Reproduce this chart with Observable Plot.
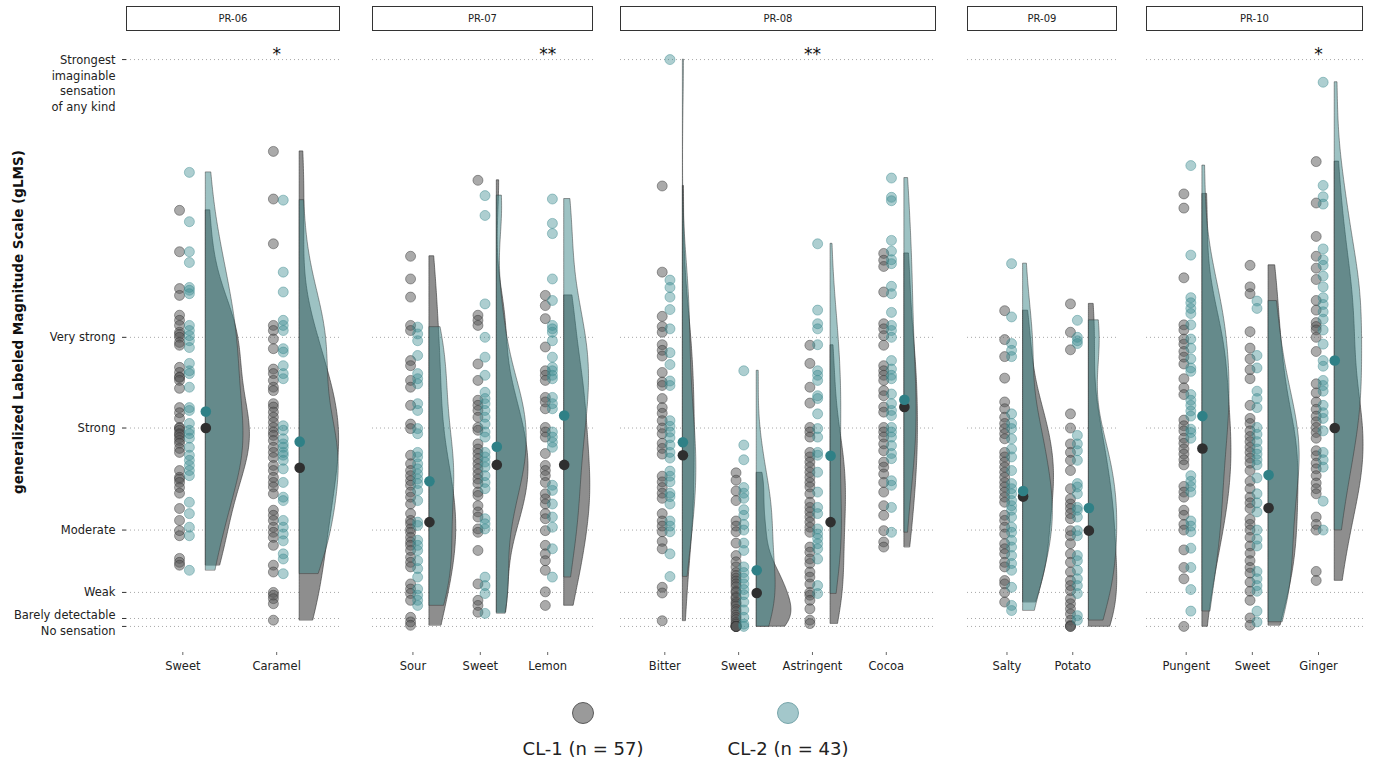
<!DOCTYPE html>
<html>
<head>
<meta charset="utf-8">
<script src="https://cdn.jsdelivr.net/npm/d3@7"></script>
<script src="https://cdn.jsdelivr.net/npm/@observablehq/plot@0.6"></script>
<style>
  html, body { margin: 0; padding: 0; background: #fff; }
  body { font-family: "DejaVu Sans", Verdana, sans-serif; }
  #root { position: relative; width: 1373px; height: 763px; overflow: hidden; background: #fff; }
  .facet { position: absolute; top: 0; z-index: 1; }
  .strip { position: absolute; top: 6px; height: 25px; box-sizing: border-box; border: 1.4px solid #333; background: #fff;
           font-size: 10px; color: #222; display: flex; align-items: center; justify-content: center; z-index: 2; }
  .legdot { position: absolute; width: 22px; height: 22px; border-radius: 50%; box-sizing: border-box; }
  .leglab { position: absolute; font-size: 18px; color: #222; transform: translateX(-50%); white-space: nowrap; }
</style>
</head>
<body>
<div id="root"></div>
<script>
// ---------------- DATA ----------------
const products = ["PR-06", "PR-07", "PR-08", "PR-09", "PR-10"];
const attributes = [
  ["Sweet", "Caramel"],
  ["Sour", "Sweet", "Lemon"],
  ["Bitter", "Sweet", "Astringent", "Cocoa"],
  ["Salty", "Potato"],
  ["Pungent", "Sweet", "Ginger"]
];
const clusters = ["CL-1", "CL-2"];
const clusterLabels = ["CL-1 (n = 57)", "CL-2 (n = 43)"];
const glmsValues = [0, 1.4, 6, 17, 35, 51, 100];
const glmsLabels = ["No sensation", "Barely detectable", "Weak", "Moderate", "Strong", "Very strong",
                    "Strongest\nimaginable\nsensation\nof any kind"];
const yTitle = "generalized Labeled Magnitude Scale (gLMS)";
const sigProducts = ["PR-06", "PR-07", "PR-08", "PR-10"];
const sigAttributes = ["Caramel", "Lemon", "Astringent", "Ginger"];
const sigLabels = ["*", "**", "**", "*"];

// ratings (gLMS) per product / attribute / cluster
const pr06_sweet_cl1 = [73.4,66.1,59.6,58.4,54.9,54.0,53.1,51.9,51.5,51.0,50.1,49.6,45.7,44.8,44.0,43.9,43.4,42.0,38.6,37.7,36.7,35.1,35.0,34.6,34.0,33.8,33.3,32.8,32.3,31.4,30.7,27.5,26.3,26.0,25.4,24.5,23.5,20.8,18.7,16.9,16.0,12.0,11.3,10.8];
const pr06_sweet_cl2 = [80.1,71.4,66.1,64.2,59.8,59.3,58.7,53.1,52.2,51.3,50.4,49.2,46.4,45.1,44.6,42.2,38.6,38.1,35.8,34.6,34.0,33.2,31.6,30.2,29.3,28.4,27.5,26.6,21.9,19.9,17.5,16.0,9.9];
const pr06_caramel_cl1 = [83.8,75.4,67.5,53.1,52.2,50.7,49.0,45.4,44.6,43.4,42.2,41.6,39.3,38.7,37.8,36.9,36.0,35.1,34.3,33.7,32.8,31.6,30.7,29.8,28.4,27.5,26.3,25.4,24.6,23.4,20.5,19.6,18.7,17.5,16.6,15.7,14.3,10.8,9.6,6.0,5.5,4.9,4.0,1.1];
const pr06_caramel_cl2 = [75.2,62.5,59.0,54.0,53.1,52.2,49.0,48.4,46.0,44.6,43.7,35.4,34.6,33.1,32.2,31.6,30.7,30.2,29.3,27.8,25.4,22.8,22.2,18.7,17.5,16.3,15.1,12.8,11.9,9.3];
const pr07_sour_cl1 = [65.3,61.3,58.1,53.1,52.2,46.9,46.0,43.4,42.2,39.0,35.7,34.9,30.2,28.7,27.5,26.6,25.7,24.9,23.7,22.8,21.6,19.9,18.7,18.1,17.2,16.6,15.7,14.9,14.3,13.4,12.2,11.3,10.5,7.5,6.6,5.8,4.6,1.6,0.8,0.2];
const pr07_sour_cl2 = [52.8,51.6,50.4,47.8,44.6,43.7,42.8,39.3,38.1,34.9,34.0,30.7,29.9,28.7,27.8,26.9,26.0,25.2,24.0,22.2,18.4,17.8,15.2,14.3,13.4,11.6,10.2,8.7,6.6,5.5,4.6,3.7];
const pr07_sweet_cl1 = [78.7,54.9,54.0,53.1,46.3,43.4,39.9,39.0,38.1,36.9,35.1,34.6,32.2,31.3,30.5,29.6,28.7,27.8,26.9,26.0,25.2,23.7,23.1,21.3,20.2,19.3,17.2,16.6,13.4,7.5,4.6,3.7,2.5];
const pr07_sweet_cl2 = [76.0,72.5,56.9,51.0,47.5,44.3,41.3,40.2,39.3,38.1,36.9,35.7,34.3,33.4,30.7,29.9,29.0,28.1,26.6,25.4,24.3,19.0,18.1,17.2,8.7,7.2,5.8,2.3];
const pr07_lemon_cl1 = [58.4,56.6,54.3,49.3,45.1,44.3,43.4,40.4,39.6,38.4,35.1,34.3,33.4,30.5,28.4,27.5,26.6,25.4,23.4,22.5,21.6,19.9,19.0,16.9,14.3,12.8,11.6,9.9,6.1,3.7];
const pr07_lemon_cl2 = [75.4,71.1,69.3,61.3,57.5,53.1,52.5,51.9,50.4,47.5,45.7,45.1,44.3,43.7,40.4,39.3,38.4,34.3,33.4,32.5,31.6,24.9,24.0,21.6,19.3,17.5,13.7,8.7];
const pr08_bitter_cl1 = [77.7,62.5,54.7,52.9,51.9,49.7,48.7,47.7,44.8,43.1,42.5,40.2,38.6,37.6,36.3,35.0,34.0,32.3,31.4,30.4,26.5,25.5,24.5,23.5,22.6,19.9,18.6,17.7,16.7,15.0,13.7,6.9,5.9,1.0];
const pr08_bitter_cl2 = [100,61.1,59.8,58.1,55.9,52.5,48.3,46.2,43.3,42.5,36.3,35.3,34.3,33.3,32.0,30.7,29.7,27.4,26.5,25.5,23.5,22.9,21.6,18.6,17.7,16.7,12.8,8.8];
const pr08_sweet_cl1 = [27.1,25.8,23.9,22.2,18.6,17.7,16.7,14.7,12.5,11.4,10.5,9.5,9.0,8.5,8.0,7.5,7.0,6.2,6.0,5.2,5.0,4.3,4.0,3.6,3.0,2.6,2.0,1.6,1.2,0.7,0.4,0,0,0,0,0,0];
const pr08_sweet_cl2 = [45.1,32.0,29.4,24.5,23.5,22.6,20.6,19.6,18.0,17.0,14.7,13.4,10.5,9.5,8.5,7.5,6.5,5.6,4.3,2.9,1.6,0.4,0];
const pr08_astringent_cl1 = [49.6,46.4,42.2,39.4,35.1,34.3,33.4,30.7,29.9,29.0,28.1,27.2,26.3,25.4,24.6,23.4,21.9,21.0,20.2,19.3,18.4,17.5,16.6,14.0,13.1,11.9,11.1,9.6,8.7,7.5,6.0,5.5,4.6,3.1,1.1,0.5];
const pr08_astringent_cl2 = [67.5,55.8,53.4,52.5,49.7,45.1,44.3,43.4,40.7,40.2,37.5,34.9,33.4,30.7,30.2,27.2,23.7,21.0,19.9,17.2,16.3,15.5,14.6,13.7,11.9,7.2,5.8];
const pr08_cocoa_cl1 = [65.8,64.6,63.5,59.0,53.4,52.5,51.3,49.6,46.0,45.1,44.3,43.4,41.6,40.7,38.7,37.8,35.1,34.3,33.4,32.2,31.0,29.0,28.1,26.9,25.4,23.7,21.3,19.6,16.9,14.9,14.0];
const pr08_cocoa_cl2 = [79.1,75.7,75.1,68.1,66.2,64.7,64.0,60.0,58.7,55.4,53.1,52.2,51.0,46.9,45.4,44.3,43.7,41.0,39.3,38.1,37.2,35.1,34.3,33.4,31.9,30.5,29.6,25.7,24.9,21.0,16.6];
const pr09_salty_cl1 = [55.7,50.6,47.6,43.8,39.6,38.4,36.9,35.8,34.9,34.0,33.1,30.7,29.9,29.0,28.1,27.2,26.3,25.4,24.6,23.7,22.8,21.9,19.6,18.7,17.5,16.3,14.6,13.7,12.8,11.3,10.5,8.1,7.5,6.0,4.3];
const pr09_salty_cl2 = [64.0,54.6,49.9,48.7,47.6,37.5,35.8,34.9,33.1,31.3,29.9,27.5,25.2,24.3,23.4,22.2,21.3,20.5,19.3,17.5,16.6,15.2,14.0,12.5,11.1,9.9,6.9,3.7,2.8];
const pr09_potato_cl1 = [56.9,51.9,48.8,37.5,35.0,32.2,30.7,29.3,27.5,24.3,22.5,21.6,20.8,19.9,19.0,16.9,16.0,14.6,12.8,11.3,9.6,8.1,7.2,6.3,4.9,4.0,3.1,2.2,1.1,0.2,0,0];
const pr09_potato_cl2 = [54.0,51.0,50.4,49.9,33.7,32.2,31.0,29.3,25.2,24.6,23.4,21.0,20.5,19.3,16.9,16.0,12.5,11.6,9.9,8.4,7.2,5.8,1.9,1.1];
const pr10_pungent_cl1 = [76.3,73.8,61.5,53.2,52.3,50.7,49.8,48.5,47.5,46.3,43.7,42.1,40.9,36.4,35.4,34.5,33.2,32.3,31.3,30.4,29.4,28.5,24.7,23.7,22.8,20.5,19.6,18.0,17.0,13.5,10.4,8.4,0];
const pr10_pungent_cl2 = [81.3,65.5,58.0,57.1,56.1,55.2,53.2,50.7,49.1,47.2,45.6,45.0,40.9,39.9,39.0,38.0,37.1,34.8,34.2,33.2,26.6,25.6,24.7,23.7,18.6,17.7,16.7,13.8,10.4,6.5,2.7];
const pr10_sweet_cl1 = [63.7,59.9,58.7,52.0,49.1,47.2,45.3,43.7,39.0,36.7,35.8,34.5,33.5,32.6,31.6,30.7,29.7,28.8,27.5,25.6,24.3,22.8,21.8,20.8,18.9,18.0,17.0,15.7,14.2,12.9,11.6,10.4,9.4,7.8,6.2,4.6,1.5,0.2];
const pr10_sweet_cl2 = [57.4,56.1,47.8,45.6,41.5,40.2,38.6,35.1,33.9,32.6,31.3,30.4,29.4,28.5,26.2,23.4,21.8,20.2,17.0,15.4,14.2,9.7,8.4,7.2,6.2,2.7,0.8];
const pr10_ginger_cl1 = [82.0,74.7,68.8,65.3,63.2,61.2,57.5,55.8,53.6,52.9,52.3,51.0,48.5,42.8,41.2,39.6,38.3,37.1,36.1,35.1,34.2,33.2,31.0,30.1,28.8,27.8,26.6,25.3,24.3,23.4,19.3,18.0,17.0,9.7,8.1];
const pr10_ginger_cl2 = [96.0,77.8,75.8,74.5,66.6,64.7,63.7,61.8,59.9,58.0,56.8,55.5,54.2,52.3,49.8,46.9,45.9,43.4,42.5,41.5,39.0,37.7,36.7,34.5,30.7,29.4,28.1,22.1,17.0];

// cluster means, in the order of the flattened attribute list
const meanCL1 = [35.0, 28.0, 18.4, 28.5, 28.5, 30.2, 5.9, 18.4, 38.7, 22.9, 16.9, 31.4, 20.9, 35.0];
const meanCL2 = [37.9, 32.6, 25.6, 31.7, 37.2, 32.5, 9.9, 30.1, 40.0, 23.9, 20.9, 37.1, 26.7, 46.9];

const seriesCL1 = [pr06_sweet_cl1, pr06_caramel_cl1, pr07_sour_cl1, pr07_sweet_cl1, pr07_lemon_cl1,
  pr08_bitter_cl1, pr08_sweet_cl1, pr08_astringent_cl1, pr08_cocoa_cl1, pr09_salty_cl1, pr09_potato_cl1,
  pr10_pungent_cl1, pr10_sweet_cl1, pr10_ginger_cl1];
const seriesCL2 = [pr06_sweet_cl2, pr06_caramel_cl2, pr07_sour_cl2, pr07_sweet_cl2, pr07_lemon_cl2,
  pr08_bitter_cl2, pr08_sweet_cl2, pr08_astringent_cl2, pr08_cocoa_cl2, pr09_salty_cl2, pr09_potato_cl2,
  pr10_pungent_cl2, pr10_sweet_cl2, pr10_ginger_cl2];

// ---------------- LAYOUT / STYLE ----------------
const panelLeft  = [126, 372, 620, 967, 1146];
const panelRight = [340, 593, 936, 1117, 1363];
const FONT = "DejaVu Sans, Verdana, sans-serif";
const GRAY_OFF = -0.035, TEAL_OFF = 0.07, BASE = 0.245, VW = 0.47;
const STAR_Y = 100.9;
const colDot = ["#555555", "#3b8a8f"];
const colDotStroke = ["#333333", "#3b8a8f"];
const colViolin = ["#8e8e8e", "#3b8587"];
const colMean = ["#2f2f2f", "#2f8086"];

// bandwidth nrd0 (as R) and gaussian KDE trimmed to data range
function nrd0(v) {
  const s = v.slice().sort(d3.ascending);
  const sd = d3.deviation(s);
  const iqr = d3.quantileSorted(s, 0.75) - d3.quantileSorted(s, 0.25);
  let lo = Math.min(sd, iqr / 1.34);
  if (!(lo > 0)) lo = sd || 1;
  return 0.9 * lo * Math.pow(s.length, -0.2);
}
function kde(v) {
  const bw = nrd0(v), lo = d3.min(v), hi = d3.max(v), N = 160, out = [];
  for (let i = 0; i <= N; i++) {
    const y = lo + (hi - lo) * i / N;
    let s = 0;
    for (const x of v) { const u = (y - x) / bw; s += Math.exp(-0.5 * u * u); }
    out.push({y, d: s / (v.length * bw * Math.sqrt(2 * Math.PI))});
  }
  return out;
}

const root = document.getElementById("root");
let flat = 0;
products.forEach((prod, fi) => {
  const attrs = attributes[fi];
  const n = attrs.length;
  const dots = [], groups = [], means = [];
  attrs.forEach((a, ai) => {
    const idx = flat++;
    [seriesCL1[idx], seriesCL2[idx]].forEach((vals, ci) => {
      vals.forEach(v => dots.push({ai, ci, v}));
      groups.push({ai, ci, pts: kde(vals)});
      means.push({ai, ci, m: (ci === 0 ? meanCL1 : meanCL2)[idx]});
    });
  });
  const maxD = d3.max(groups, g => d3.max(g.pts, p => p.d));
  const dens = [];
  groups.forEach(g => g.pts.forEach(p => dens.push({ai: g.ai, ci: g.ci, y: p.y,
    x1: g.ai + BASE, x2: g.ai + BASE + p.d / maxD * VW})));
  const stars = sigProducts.map((p, i) => ({p, a: sigAttributes[i], label: sigLabels[i]}))
    .filter(s => s.p === prod).map(s => ({ai: attrs.indexOf(s.a), label: s.label}));

  const first = fi === 0;
  const mLeft = first ? panelLeft[0] : 0;
  const width = panelRight[fi] - panelLeft[fi] + mLeft;

  const marks = [
    Plot.ruleY(glmsValues, {stroke: "#a8a8a8", strokeWidth: 1, strokeDasharray: "1,3"}),
    Plot.axisX({ticks: d3.range(n), tickFormat: i => attrs[i], tickSize: 3, tickPadding: 6,
      fontSize: 11.5, label: null, stroke: "#666", fill: "#222"}),
  ];
  clusters.forEach((cl, ci) => {
    marks.push(Plot.dot(dots.filter(d => d.ci === ci), {
      x: d => d.ai + (ci === 0 ? GRAY_OFF : TEAL_OFF), y: "v", r: 5,
      fill: colDot[ci], fillOpacity: ci === 0 ? 0.5 : 0.42,
      stroke: colDotStroke[ci], strokeOpacity: 0.55, strokeWidth: 0.8}));
  });
  marks.push(Plot.areaX(dens.filter(d => d.ci === 0), {y: "y", x1: "x1", x2: "x2", z: "ai",
    fill: colViolin[0], fillOpacity: 1, stroke: "#333", strokeWidth: 0.6, curve: "linear"}));
  marks.push(Plot.areaX(dens.filter(d => d.ci === 1), {y: "y", x1: "x1", x2: "x2", z: "ai",
    fill: colViolin[1], fillOpacity: 0.5, stroke: "#333", strokeWidth: 0.6, strokeOpacity: 0.8, curve: "linear"}));
  clusters.forEach((cl, ci) => {
    marks.push(Plot.dot(means.filter(d => d.ci === ci), {x: d => d.ai + BASE, y: "m", r: 5.3,
      fill: colMean[ci], stroke: "none"}));
  });
  marks.push(Plot.text(stars, {x: "ai", y: () => STAR_Y, text: "label", fontSize: 17, fill: "#111"}));

  if (first) {
    marks.push(Plot.axisY({ticks: glmsValues, tickFormat: () => "", tickSize: 4, label: null, stroke: "#333"}));
    const lab = glmsValues.map((v, i) => ({v, t: glmsLabels[i]}));
    marks.push(Plot.text(lab.filter(d => d.v > 2 && d.v < 100), {y: "v", text: "t", frameAnchor: "left",
      dx: -11, textAnchor: "end", fontSize: 11.5, fill: "#222"}));
    marks.push(Plot.text(lab.filter(d => d.v === 100), {y: "v", text: "t", frameAnchor: "left",
      dx: -11, dy: -7, textAnchor: "end", lineAnchor: "top", lineHeight: 1.37, fontSize: 11.5, fill: "#222"}));
    marks.push(Plot.text(lab.filter(d => d.v > 0 && d.v < 2), {y: "v", text: "t", frameAnchor: "left",
      dx: -11, dy: -3, textAnchor: "end", fontSize: 11.5, fill: "#222"}));
    marks.push(Plot.text(lab.filter(d => d.v === 0), {y: "v", text: "t", frameAnchor: "left",
      dx: -11, dy: 5, textAnchor: "end", fontSize: 11.5, fill: "#222"}));
    marks.push(Plot.text([yTitle], {frameAnchor: "left", dx: -108, dy: -21, rotate: -90,
      textAnchor: "middle", fontWeight: "bold", fontSize: 13.5, fill: "#111"}));
  }

  const svg = Plot.plot({
    width, height: 690,
    marginLeft: mLeft, marginRight: 0, marginTop: 33, marginBottom: 38,
    style: {fontFamily: FONT, background: "transparent", overflow: "visible"},
    x: {domain: [-0.6, n - 0.32], axis: null},
    y: {domain: [-4.6, 104.6], axis: null},
    marks
  });
  svg.classList.add("facet");
  svg.style.left = (first ? 0 : panelLeft[fi]) + "px";
  root.appendChild(svg);

  const strip = document.createElement("div");
  strip.className = "strip";
  strip.style.left = panelLeft[fi] + "px";
  strip.style.width = (panelRight[fi] - panelLeft[fi]) + "px";
  strip.textContent = prod;
  root.appendChild(strip);
});

// legend
const legX = [583, 788];
const legFill = ["#9a9a9a", "#a3c7cb"];
const legStroke = ["#5a5a5a", "#78a6ab"];
clusters.forEach((cl, ci) => {
  const d = document.createElement("div");
  d.className = "legdot";
  d.style.left = (legX[ci] - 11) + "px";
  d.style.top = (713 - 11) + "px";
  d.style.background = legFill[ci];
  d.style.border = "1.2px solid " + legStroke[ci];
  root.appendChild(d);
  const t = document.createElement("div");
  t.className = "leglab";
  t.style.left = legX[ci] + "px";
  t.style.top = "738px";
  t.textContent = clusterLabels[ci];
  root.appendChild(t);
});
</script>
</body>
</html>
